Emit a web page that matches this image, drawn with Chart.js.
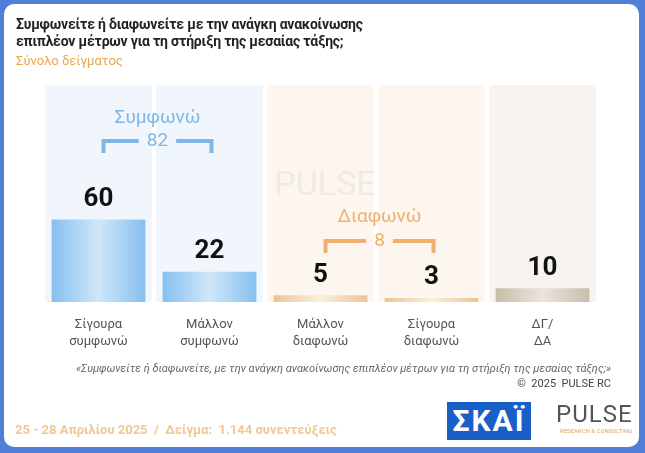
<!DOCTYPE html>
<html><head><meta charset="utf-8">
<script src="https://cdn.jsdelivr.net/npm/chart.js@4"></script>
<style>
html,body{margin:0;padding:0;width:645px;height:453px;overflow:hidden;background:#4f7fd6;font-family:"Roboto","Liberation Sans",sans-serif}
#panel{position:absolute;left:4px;top:4px;width:635px;height:443px;background:#fff;border-radius:10px;overflow:hidden}
#c{position:absolute;left:-4px;top:-4px}
.t{position:absolute;white-space:nowrap}
</style></head><body>
<div id="panel">
<canvas id="c" width="645" height="453"></canvas>
<div class="t" style="left:12px;top:12px;font-weight:bold;font-size:14px;color:#222;line-height:17px;letter-spacing:-0.2px">Συμφωνείτε ή διαφωνείτε με την ανάγκη ανακοίνωσης<br>επιπλέον μέτρων για τη στήριξη της μεσαίας τάξης;</div>
<div class="t" style="left:12px;top:49px;font-size:13px;color:#e8a850">Σύνολο δείγματος</div>
<div class="t" style="right:28px;top:358px;font-size:11px;color:#666;font-style:italic">«Συμφωνείτε ή διαφωνείτε, με την ανάγκη ανακοίνωσης επιπλέον μέτρων για τη στήριξη της μεσαίας τάξης;»</div>
<div class="t" style="right:28px;top:373px;font-size:11px;color:#444">©&nbsp; 2025&nbsp; PULSE RC</div>
<div class="t" style="left:11px;top:418px;font-size:13px;font-weight:bold;color:#f0c890">25 - 28 Απριλίου 2025&nbsp; /&nbsp; Δείγμα:&nbsp; 1.144 συνεντεύξεις</div>
<div class="t" style="left:443px;top:398px;width:84px;height:38px;background:#1a5fc8;color:#fff;font-size:30px;font-weight:bold;text-align:center;line-height:38px;letter-spacing:2px">ΣΚΑΪ</div>
<div class="t" style="left:552px;top:396px;font-size:24px;color:#555;letter-spacing:1px">PULSE</div>
<div class="t" style="left:556px;top:423px;font-size:6px;color:#e8a050">RESEARCH &amp; CONSULTING</div>
</div>
<script>
const categories=[["Σίγουρα","συμφωνώ"],["Μάλλον","συμφωνώ"],["Μάλλον","διαφωνώ"],["Σίγουρα","διαφωνώ"],["ΔΓ/","ΔΑ"]];
const values=[60,22,5,3,10];
const bgValues=[158,158,158,158,158];
const groups=[{label:"Συμφωνώ",total:"82",from:0,to:1,color:"#7fb8e8"},{label:"Διαφωνώ",total:"8",from:2,to:3,color:"#f0b070"}];
const barCols=[["#86bfee","#cfe7fa"],["#86bfee","#cfe7fa"],["#ecc396","#fbeedd"],["#ecc396","#fbeedd"],["#c9bcaa","#ece5db"]];
const bgCols=["#f0f6fc","#f0f6fc","#fdf6ee","#fdf6ee","#f7f4f0"];
function grad(ctx){const i=ctx.dataIndex;const c=ctx.chart;const x=c.scales&&c.scales.x;if(!x)return barCols[i][0];
const cx=x.getPixelForValue(i);const w=(x.width/values.length)*0.96*0.88/2;
if(!isFinite(cx)||!isFinite(w)||w<=0)return barCols[i][0];
const g=c.ctx.createLinearGradient(cx-w,0,cx+w,0);g.addColorStop(0,barCols[i][0]);g.addColorStop(0.5,barCols[i][1]);g.addColorStop(1,barCols[i][0]);return g;}
const deco={id:"deco",afterDatasetsDraw(ch){const c=ch.ctx,x=ch.scales.x,y=ch.scales.y;c.save();
c.fillStyle="rgba(200,200,200,0.25)";c.font="34px Roboto";c.textAlign="center";c.fillText("PULSE",325,195);
c.fillStyle="#111";c.font="bold 26px Roboto";c.textBaseline="bottom";
values.forEach((v,i)=>c.fillText(v,x.getPixelForValue(i),y.getPixelForValue(v)-7));
c.fillStyle="#555";c.font="13px Roboto";c.textBaseline="top";
categories.forEach((l,i)=>{c.fillText(l[0],x.getPixelForValue(i),318);c.fillText(l[1],x.getPixelForValue(i),335);});
const ys=[[118,141],[217,241]];
groups.forEach((g,k)=>{const a=x.getPixelForValue(g.from)+5,b=x.getPixelForValue(g.to)+2,m=(a+b)/2,ty=ys[k][0],ly=ys[k][1];
c.fillStyle=g.color;c.strokeStyle=g.color;c.lineWidth=4;c.textBaseline="middle";c.font="19px Roboto";c.fillText(g.label,m,ty);
c.fillText(g.total,m,ly);const tw=c.measureText(g.total).width/2+8;
c.beginPath();c.moveTo(a,ly+12);c.lineTo(a,ly);c.lineTo(m-tw,ly);c.moveTo(m+tw,ly);c.lineTo(b,ly);c.lineTo(b,ly+12);c.stroke();});
c.restore();}};
new Chart(document.getElementById("c"),{type:"bar",
data:{labels:categories.map(l=>l.join(" ")),datasets:[
{data:bgValues,backgroundColor:bgCols,grouped:false,barPercentage:1,categoryPercentage:0.96,order:2},
{data:values,backgroundColor:grad,grouped:false,barPercentage:0.88,categoryPercentage:0.96,order:1}]},
options:{responsive:false,animation:false,events:[],layout:{padding:{left:43,right:47,top:85,bottom:151}},
plugins:{legend:{display:false},tooltip:{enabled:false}},
scales:{x:{display:false},y:{display:false,min:0,max:158}}},plugins:[deco]});
</script></body></html>
